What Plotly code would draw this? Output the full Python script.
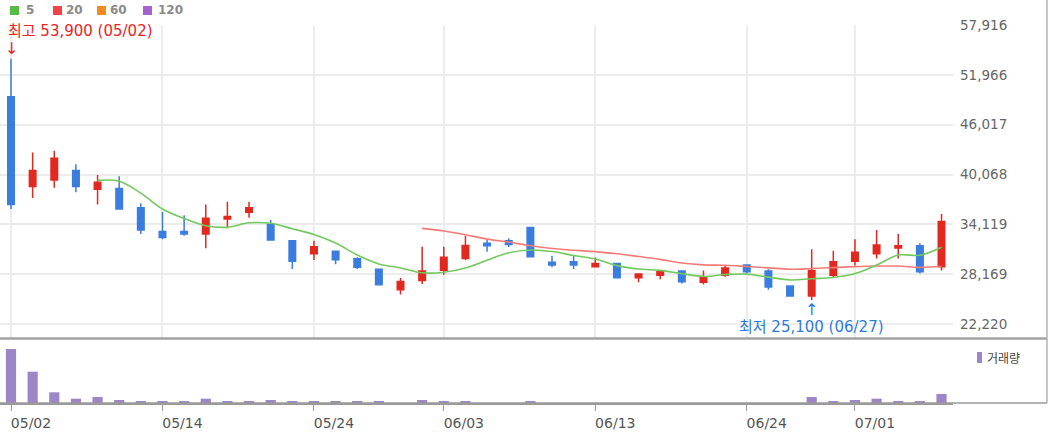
import plotly.graph_objects as go
import pandas as pd

# ---------------- data ----------------
dates = ['05/02', '05/03', '05/07', '05/08', '05/09', '05/10', '05/13', '05/14', '05/16', '05/17',
         '05/20', '05/21', '05/22', '05/23', '05/24', '05/27', '05/28', '05/29', '05/30', '05/31',
         '06/03', '06/04', '06/05', '06/07', '06/10', '06/11', '06/12', '06/13', '06/14', '06/17',
         '06/18', '06/19', '06/20', '06/21', '06/24', '06/25', '06/26', '06/27', '06/28', '07/01',
         '07/02', '07/03', '07/04', '07/05']
opens = [49350, 38650, 39400, 40550, 38300, 38400, 36100, 33250, 33250, 32950,
         34750, 35550, 34100, 32150, 30600, 30900, 30000, 28750, 26300, 27400,
         28650, 30050, 31850, 32150, 33750, 29600, 29650, 29050, 29450, 27750,
         28050, 28550, 27200, 28050, 29250, 28550, 26750, 25550, 28050, 29700,
         30600, 31300, 31550, 29050]
highs = [53900, 42700, 42900, 41300, 40000, 39850, 36650, 35600, 35200, 36500,
         36800, 36800, 34650, 32150, 32150, 31000, 30200, 28750, 27700, 31450,
         31450, 32750, 32250, 32450, 33750, 30350, 30350, 30150, 29450, 28200,
         28650, 28550, 28600, 29250, 29300, 28750, 26750, 31150, 30950, 32350,
         33450, 32950, 31850, 35350]
lows = [35950, 37250, 38500, 37950, 36500, 35950, 32950, 32350, 32750, 31250,
        33650, 34900, 32250, 28800, 29850, 29350, 28800, 26900, 25750, 27000,
        28100, 29850, 30850, 31400, 30250, 29000, 28800, 29050, 27750, 27200,
        27550, 27050, 26950, 27850, 28250, 26300, 25550, 25100, 27700, 29200,
        30050, 30050, 28250, 28600]
closes = [36500, 40550, 42000, 38650, 39150, 35950, 33450, 32550, 32950, 34850,
          35050, 36100, 32250, 29700, 31450, 29900, 29000, 26900, 27300, 28550,
          30200, 31600, 31550, 31700, 30250, 29250, 29250, 29450, 27750, 28200,
          28450, 27250, 27850, 28900, 28450, 26650, 25550, 28600, 29650, 30800,
          31650, 31550, 28450, 34450]
volumes = [10800000, 6260000, 2140000, 860000, 1200000, 600000, 340000, 340000, 340000, 860000,
           340000, 340000, 600000, 340000, 340000, 340000, 340000, 340000, 0, 600000,
           340000, 340000, 0, 0, 340000, 0, 0, 0, 0, 0,
           0, 0, 0, 0, 0, 0, 0, 1200000, 340000, 600000,
           860000, 340000, 340000, 1800000]
price_ticks = [22220, 28169, 34119, 40068, 46017, 51966, 57916]
date_ticks = ['05/02', '05/14', '05/24', '06/03', '06/13', '06/24', '07/01']
high_label = '최고 53,900 (05/02)'
low_label = '최저 25,100 (06/27)'
ma_names = ['5', '20', '60', '120']
volume_name = '거래량'

ma5 = pd.Series(closes).rolling(5).mean()
ma20 = pd.Series(closes).rolling(20).mean()

# ---------------- style ----------------
W, H = 1050, 434
ML, MR, MT, MB = 0, 97, 25, 31
PW, PH = W - ML - MR, H - MT - MB
RED = '#e2291f'
BLUE = '#3a7ddf'
GREEN_MA = '#72c95f'
RED_MA = '#f27b78'
VOL = '#9b86c8'
GRID = '#ececec'
FONT = 'DejaVu Sans, Noto Sans CJK KR, sans-serif'
KFONT = 'Noto Sans CJK KR, DejaVu Sans, sans-serif'


def px_x(p):
    return (p - ML) / PW


def px_y(p):
    return (H - MB - p) / PH


price_dom = [px_y(338), 1]
vol_dom = [0, px_y(340)]
price_bottom = price_ticks[0] - (price_ticks[-1] - price_ticks[0]) / 299 * 14
vol_top = volumes[0] * 63 / 54

fig = go.Figure()
fig.add_trace(go.Scatter(x=dates, y=ma20, mode='lines', xaxis='x', yaxis='y',
                         line=dict(color=RED_MA, width=1.6, shape='spline'),
                         hoverinfo='skip', showlegend=False))
fig.add_trace(go.Scatter(x=dates, y=ma5, mode='lines', xaxis='x', yaxis='y',
                         line=dict(color=GREEN_MA, width=1.6, shape='spline'),
                         hoverinfo='skip', showlegend=False))
fig.add_trace(go.Candlestick(x=dates, open=opens, high=highs, low=lows, close=closes,
                             xaxis='x', yaxis='y', whiskerwidth=0,
                             increasing=dict(line=dict(color=RED, width=1.5), fillcolor=RED),
                             decreasing=dict(line=dict(color=BLUE, width=1.5), fillcolor=BLUE),
                             showlegend=False))
fig.add_trace(go.Bar(x=dates, y=volumes, xaxis='x2', yaxis='y2',
                     marker=dict(color=VOL, line=dict(width=0)), showlegend=False))

xr = [-(11 - ML) / 21.64, (ML + PW - 11) / 21.64]

fig.update_layout(
    width=W, height=H,
    margin=dict(l=ML, r=MR, t=MT, b=MB, autoexpand=False),
    paper_bgcolor='white', plot_bgcolor='white',
    boxgap=0.57, bargap=0.53,
    xaxis=dict(type='category', domain=[0, 1], anchor='y', range=xr, automargin=False,
               categoryorder='array', categoryarray=dates,
               tickvals=date_ticks, showticklabels=False, ticks='',
               showgrid=True, gridcolor=GRID, gridwidth=1.5,
               zeroline=False, showline=False, rangeslider=dict(visible=False)),
    xaxis2=dict(type='category', domain=[0, 1], anchor='y2', matches='x', automargin=False,
                categoryorder='array', categoryarray=dates,
                tickvals=date_ticks, ticktext=date_ticks, ticks='outside',
                ticklen=6, tickcolor='#9a9a9a', tickwidth=1,
                showgrid=False, showline=True, linecolor='#9a9a9a', linewidth=1.5,
                zeroline=False, ticklabelshift=20,
                tickfont=dict(family=FONT, size=14, color='#555555')),
    yaxis=dict(domain=price_dom, anchor='x', side='right', automargin=False,
               range=[price_bottom, price_ticks[-1]],
               tickvals=price_ticks, ticktext=[f'{v:,}' for v in price_ticks],
               showgrid=True, gridcolor=GRID, gridwidth=1.5, zeroline=False,
               ticks='', ticklabelstandoff=6,
               tickfont=dict(family=FONT, size=13.5, color='#666666')),
    yaxis2=dict(domain=vol_dom, anchor='x2', range=[0, vol_top], automargin=False,
                showgrid=False, showticklabels=False, zeroline=False, ticks=''),
)

shapes = [
    # separator between price and volume panels
    dict(type='line', xref='paper', yref='paper', x0=px_x(0), x1=px_x(1047),
         y0=px_y(338.5), y1=px_y(338.5), line=dict(color='#a3a3a3', width=2.5)),
    # volume baseline extension
    dict(type='line', xref='paper', yref='paper', x0=px_x(0), x1=px_x(1047),
         y0=px_y(403), y1=px_y(403), line=dict(color='#9a9a9a', width=1.5)),
    # right frame
    dict(type='line', xref='paper', yref='paper', x0=px_x(1047), x1=px_x(1047),
         y0=px_y(403), y1=px_y(0), line=dict(color='#b5b5b5', width=1.5)),
    # volume legend mark
    dict(type='rect', xref='paper', yref='paper', x0=px_x(977), x1=px_x(982),
         y0=px_y(363), y1=px_y(352), line=dict(width=0), fillcolor=VOL),
]
legend_cols = ['#56bb44', '#ee4444', '#f28a1e', '#a463cf']
legend_sq_x = [10, 53, 97, 143]
legend_tx_x = [24, 64, 108, 156]
annotations = []
for name, col, sx, tx in zip(ma_names, legend_cols, legend_sq_x, legend_tx_x):
    shapes.append(dict(type='rect', xref='paper', yref='paper', x0=px_x(sx), x1=px_x(sx + 9),
                       y0=px_y(15), y1=px_y(6), line=dict(width=0), fillcolor=col))
    annotations.append(dict(xref='paper', yref='paper', x=px_x(tx), y=px_y(10.5),
                            xanchor='left', yanchor='middle', showarrow=False,
                            text=f'<b>{name}</b>',
                            font=dict(family=FONT, size=12, color='#8a8a8a')))

annotations += [
    dict(xref='x', yref='y', x=dates[0], y=highs[0], xanchor='left', yanchor='middle',
         xshift=-5, yshift=28, showarrow=False, text=high_label,
         font=dict(family=FONT, size=15, color='#f2221c')),
    dict(xref='x', yref='y', x=dates[0], y=highs[0], xanchor='center', yanchor='middle',
         yshift=10, showarrow=False, text='↓',
         font=dict(family=FONT, size=16, color='#f2221c')),
    dict(xref='x', yref='y', x=dates[37], y=lows[37], xanchor='center', yanchor='middle',
         yshift=-27, showarrow=False, text=low_label,
         font=dict(family=FONT, size=15, color='#2e7be0')),
    dict(xref='x', yref='y', x=dates[37], y=lows[37], xanchor='center', yanchor='middle',
         yshift=-10, showarrow=False, text='↑',
         font=dict(family=FONT, size=16, color='#2e7be0')),
    dict(xref='paper', yref='paper', x=px_x(985), y=px_y(357.5), xanchor='left',
         yanchor='middle', showarrow=False, text=volume_name,
         font=dict(family=KFONT, size=12, color='#444444')),
]
fig.update_layout(shapes=shapes, annotations=annotations)

fig.write_html('out.html', config={'displayModeBar': False},
               post_script="document.body.style.margin='0px';")
